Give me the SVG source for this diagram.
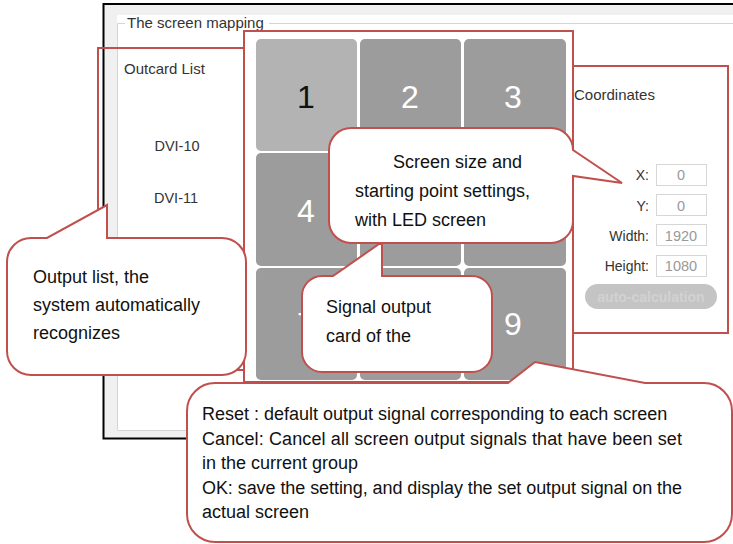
<svg xmlns="http://www.w3.org/2000/svg" width="733" height="544" viewBox="0 0 733 544">
<defs>
<style>
.ui{font-family:"Liberation Sans",Arial,sans-serif;fill:#333}
.num{font-family:"Liberation Sans",Arial,sans-serif;font-size:32px;text-anchor:middle;fill:#fff}
.tile{fill:#9c9c9c}
.hl{fill:none;stroke:#c0504d;stroke-width:2}
.co{fill:#fff;stroke:#c0504d;stroke-width:2;stroke-linejoin:miter}
.ct{font-family:"Liberation Sans",Arial,sans-serif;font-size:18px;fill:#111}
.lbl{font-family:"Liberation Sans",Arial,sans-serif;font-size:14px;fill:#333;text-anchor:end}
.box{fill:#fff;stroke:#d6d6d6;stroke-width:1}
.val{font-family:"Liberation Sans",Arial,sans-serif;font-size:14.5px;fill:#999;text-anchor:middle}
</style>
</defs>
<rect width="733" height="544" fill="#fff"/>
<g id="window">
<rect x="104" y="5" width="629" height="433" fill="#f0f0f0"/>
<rect x="117" y="15" width="616" height="415" fill="#fff"/>
<path d="M117.5,430 V23.5 H125 M269,23.5 H733 M117.5,430.5 H733" fill="none" stroke="#d4d4d4" stroke-width="1"/>
<path d="M733,4 H103.5 V438.5 H200" fill="none" stroke="#000" stroke-width="2"/>
<text class="ui" x="127" y="28" font-size="15">The screen mapping</text>
</g>
<g id="outcard-list">
<text class="ui" x="124" y="74" font-size="15">Outcard List</text>
<text class="ui" x="177" y="151" font-size="14.5" text-anchor="middle">DVI-10</text>
<text class="ui" x="176" y="203" font-size="14.5" text-anchor="middle">DVI-11</text>
</g>
<g id="grid">
<rect x="256" y="39" width="101" height="112" rx="5" fill="#b3b3b3"/>
<rect class="tile" x="360" y="39" width="101" height="112" rx="5"/>
<rect class="tile" x="464" y="39" width="102" height="112" rx="5"/>
<rect class="tile" x="256" y="153" width="101" height="113" rx="5"/>
<rect class="tile" x="360" y="153" width="101" height="113" rx="5"/>
<rect class="tile" x="464" y="153" width="102" height="113" rx="5"/>
<rect class="tile" x="256" y="268" width="101" height="112" rx="5"/>
<rect class="tile" x="360" y="268" width="101" height="112" rx="5"/>
<rect class="tile" x="464" y="268" width="102" height="112" rx="5"/>
<text class="num" x="306" y="108" fill="#111" style="fill:#111">1</text>
<text class="num" x="410" y="108">2</text>
<text class="num" x="513" y="108">3</text>
<text class="num" x="306" y="222">4</text>
<text class="num" x="306" y="335">7</text>
<text class="num" x="513" y="335">9</text>
</g>
<g id="coordinates">
<text class="ui" x="574" y="100" font-size="15">Coordinates</text>
<text class="lbl" x="649" y="180">X:</text>
<rect class="box" x="656.5" y="164.5" width="50" height="21"/>
<text class="val" x="681" y="180">0</text>
<text class="lbl" x="649" y="211">Y:</text>
<rect class="box" x="656.5" y="194.5" width="50" height="21"/>
<text class="val" x="681" y="211">0</text>
<text class="lbl" x="649" y="241">Width:</text>
<rect class="box" x="656.5" y="224.5" width="50" height="21"/>
<text class="val" x="681" y="241">1920</text>
<text class="lbl" x="649" y="271">Height:</text>
<rect class="box" x="656.5" y="255.5" width="50" height="21"/>
<text class="val" x="681" y="271">1080</text>
<rect x="585" y="284" width="132" height="25" rx="12.5" fill="#c4c4c4"/>
<text x="651" y="302" font-family="Liberation Sans,Arial,sans-serif" font-size="14" font-weight="bold" fill="#d2d2d2" text-anchor="middle">auto-calculation</text>
</g>
<g id="highlights">
<rect class="hl" x="98" y="48" width="146" height="322"/>
<rect class="hl" x="244" y="31" width="329" height="351"/>
<rect class="hl" x="573" y="66" width="155" height="267"/>
</g>
<g id="callout-output-list">
<path class="co" d="M31,238 L47,238 L107,205 L107,238 L222,238 A24,24 0 0 1 246,262 L246,351 A24,24 0 0 1 222,375 L31,375 A24,24 0 0 1 7,351 L7,262 A24,24 0 0 1 31,238 Z"/>
<text class="ct" x="33" y="283">Output list, the</text>
<text class="ct" x="33" y="311">system automatically</text>
<text class="ct" x="33" y="339">recognizes</text>
</g>
<g id="callout-screen-size">
<path class="co" d="M351,128 L551,128 A22,22 0 0 1 573,150 L622,183 L573,176 L573,221 A22,22 0 0 1 551,243 L351,243 A22,22 0 0 1 329,221 L329,150 A22,22 0 0 1 351,128 Z"/>
<text class="ct" x="393" y="168">Screen size and</text>
<text class="ct" x="355" y="197">starting point settings,</text>
<text class="ct" x="355" y="226">with LED screen</text>
</g>
<g id="callout-signal">
<path class="co" d="M322,276 L333,276 L379,244 L382,244 L382,276 L472,276 A20,20 0 0 1 492,296 L492,352 A20,20 0 0 1 472,372 L322,372 A20,20 0 0 1 302,352 L302,296 A20,20 0 0 1 322,276 Z"/>
<text class="ct" x="326" y="313">Signal output</text>
<text class="ct" x="326" y="342">card of the</text>
</g>
<g id="callout-buttons">
<path class="co" d="M215,383 L508,383 L535,362 L645,383 L704,383 A28,28 0 0 1 732,411 L732,514 A28,28 0 0 1 704,542 L215,542 A28,28 0 0 1 187,514 L187,411 A28,28 0 0 1 215,383 Z"/>
<text class="ct" x="202" y="420">Reset : default output signal corresponding to each screen</text>
<text class="ct" x="202" y="445" textLength="480" lengthAdjust="spacing">Cancel: Cancel all screen output signals that have been set</text>
<text class="ct" x="202" y="469">in the current group</text>
<text class="ct" x="202" y="494" textLength="480" lengthAdjust="spacing">OK: save the setting, and display the set output signal on the</text>
<text class="ct" x="202" y="518">actual screen</text>
</g>
</svg>
